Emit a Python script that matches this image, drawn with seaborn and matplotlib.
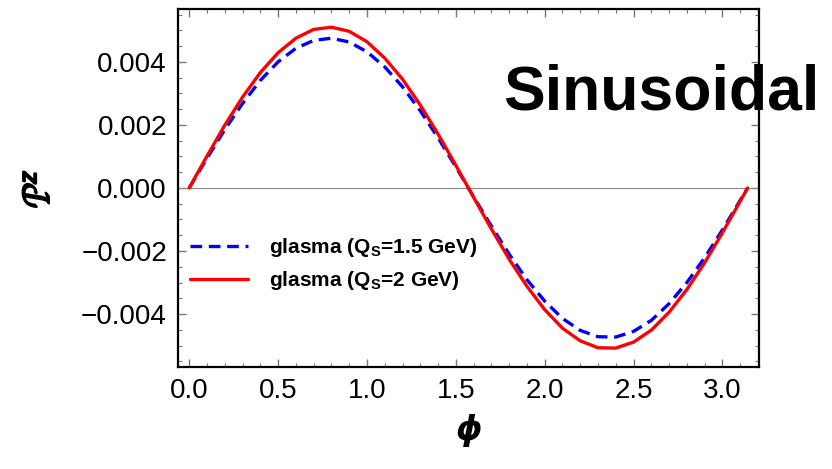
import pandas as pd
import seaborn as sns
import matplotlib.pyplot as plt
import matplotlib.patheffects as pe
from matplotlib.ticker import MultipleLocator

# values (polarization vs phi)
phi = [0.0, 0.1, 0.2, 0.3, 0.4, 0.5, 0.6, 0.7, 0.8, 0.9, 1.0, 1.1, 1.2, 1.3, 1.4, 1.5,
       1.6, 1.7, 1.8, 1.9, 2.0, 2.1, 2.2, 2.3, 2.4, 2.5, 2.6, 2.7, 2.8, 2.9, 3.0, 3.1, 3.1416]
pz_qs15 = [0, 0.94, 1.85, 2.68, 3.41, 4.00, 4.43, 4.68, 4.75, 4.63, 4.32, 3.84, 3.21, 2.45, 1.59, 0.67,
           -0.28, -1.21, -2.10, -2.91, -3.59, -4.14, -4.52, -4.72, -4.73, -4.55, -4.20, -3.67, -3.00, -2.21, -1.33, -0.39, 0]
pz_qs2 = [0, 1.01, 1.99, 2.88, 3.66, 4.29, 4.75, 5.03, 5.10, 4.97, 4.64, 4.12, 3.45, 2.63, 1.71, 0.72,
          -0.30, -1.30, -2.26, -3.12, -3.86, -4.45, -4.85, -5.07, -5.08, -4.89, -4.51, -3.94, -3.22, -2.37, -1.42, -0.42, 0]
labels = [r"glasma ($\mathbf{Q_S}$=1.5 GeV)", r"glasma ($\mathbf{Q_S}$=2 GeV)"]

df1 = pd.DataFrame({"phi": phi, "pz": [v * 1e-3 for v in pz_qs15]})
df2 = pd.DataFrame({"phi": phi, "pz": [v * 1e-3 for v in pz_qs2]})

sns.set_style("ticks")
plt.rcParams["font.family"] = ["Liberation Sans", "DejaVu Sans"]
plt.rcParams["text.color"] = "black"
plt.rcParams["axes.labelcolor"] = "black"
plt.rcParams["mathtext.fontset"] = "custom"
plt.rcParams["mathtext.rm"] = "Liberation Sans"
plt.rcParams["mathtext.bf"] = "Liberation Sans:bold"
plt.rcParams["mathtext.it"] = "Liberation Sans:italic"

fig = plt.figure(figsize=(8.32, 4.69), dpi=100)
ax = fig.add_axes([0.214, 0.2175, 0.698, 0.7635])

ax.axhline(0, color="#888888", lw=0.8, zorder=1)
sns.lineplot(data=df1, x="phi", y="pz", ax=ax, color="#0000ff", lw=2.4,
             linestyle=(0, (3.5, 2)), label=labels[0])
sns.lineplot(data=df2, x="phi", y="pz", ax=ax, color="#ff0000", lw=2.4, label=labels[1])

ax.set_xlim(-0.0628, 3.2044)
ax.set_ylim(-0.00568, 0.00568)
ax.xaxis.set_major_locator(MultipleLocator(0.5))
ax.xaxis.set_minor_locator(MultipleLocator(0.1))
ax.yaxis.set_major_locator(MultipleLocator(0.002))
ax.yaxis.set_minor_locator(MultipleLocator(0.0005))
ax.set_xticks([0, 0.5, 1.0, 1.5, 2.0, 2.5, 3.0])
ax.set_xticklabels(["0.0", "0.5", "1.0", "1.5", "2.0", "2.5", "3.0"])
ax.set_yticks([-0.004, -0.002, 0, 0.002, 0.004])
ax.set_yticklabels(["\u22120.004", "\u22120.002", "0.000", "0.002", "0.004"])
ax.tick_params(which="both", direction="in", top=True, right=True, color="#777777",
               labelsize=20, labelcolor="black")
ax.tick_params(which="major", length=6, width=1, pad=8)
ax.tick_params(which="minor", length=3, width=0.8)
for s in ax.spines.values():
    s.set_linewidth(1.6)
    s.set_color("black")

ax.set_xlabel(r"$\boldsymbol{\phi}$", fontsize=24, labelpad=6, color="black")
yl = ax.set_ylabel(r"$\mathcal{P}^{z}$", fontsize=25, rotation=90, labelpad=18, color="black")
yl.set_path_effects([pe.withStroke(linewidth=1.6, foreground="black")])

ax.legend(loc="upper left", bbox_to_anchor=(-0.012, 0.418), frameon=False,
          prop={"weight": "bold", "size": 15}, handlelength=2.8, labelspacing=0.5,
          handletextpad=1.0)

fig.text(503 / 832, 1 - 93 / 469, "Sinusoidal", fontsize=45, fontweight="bold",
         ha="left", va="center", color="black")

fig.savefig("out.png", dpi=100)
